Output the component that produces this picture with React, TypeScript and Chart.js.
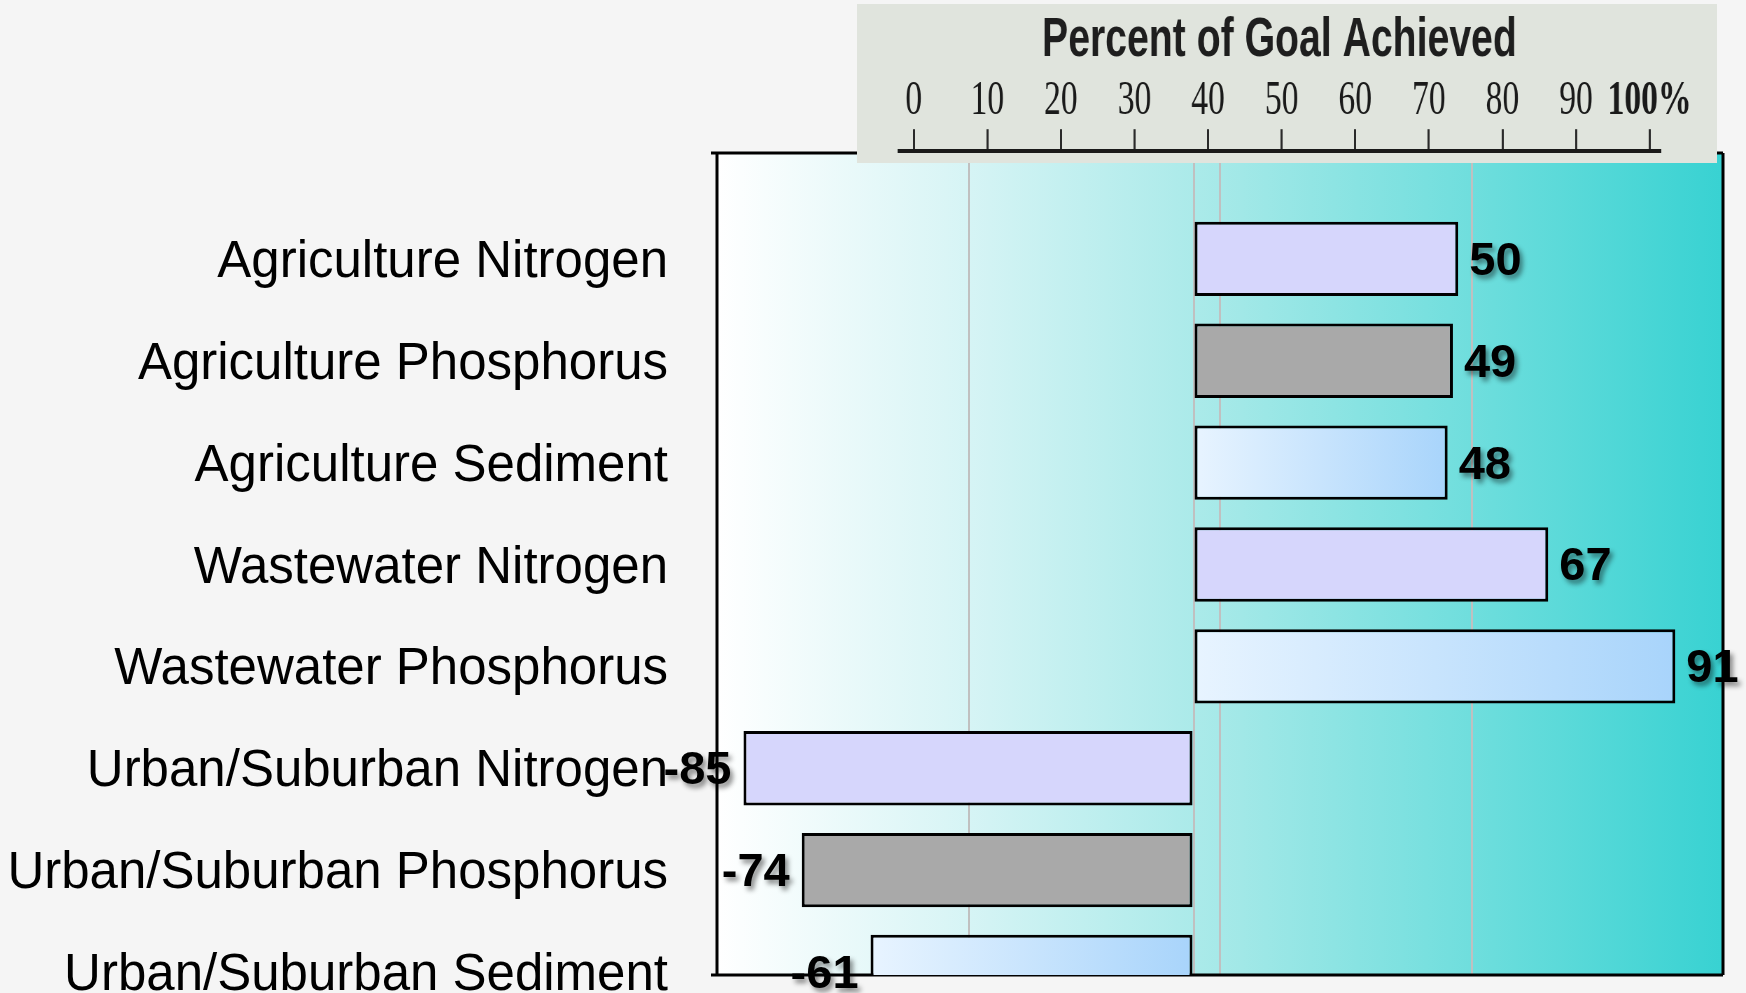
import React, { useEffect, useRef } from 'react';
import { Chart, registerables } from 'chart.js';

Chart.register(...registerables);

// ---- data ----
const categories = [
  'Agriculture Nitrogen',
  'Agriculture Phosphorus',
  'Agriculture Sediment',
  'Wastewater Nitrogen',
  'Wastewater Phosphorus',
  'Urban/Suburban Nitrogen',
  'Urban/Suburban Phosphorus',
  'Urban/Suburban Sediment',
];
const values = [50, 49, 48, 67, 91, -85, -74, -61];
const barFills = ['lavender', 'gray', 'blue', 'lavender', 'blue', 'lavender', 'gray', 'blue'];
const valueGridTicks = [-90, -42.5, 0, 5, 52.5, 100];
const percentTicks = [0, 10, 20, 30, 40, 50, 60, 70, 80, 90, 100];
const goalTitle = 'Percent of Goal Achieved';

// ---- styles ----
const solidFills: Record<string, string> = { lavender: '#d6d6fc', gray: '#a9a9a9' };
const blueStops = ['#e8f4ff', '#a8d4fb'];
const SANS = '"Liberation Sans", Arial, Helvetica, sans-serif';
const SERIF = '"Liberation Serif", "Times New Roman", serif';

Chart.defaults.font.family = SANS;

const plotDecor = {
  id: 'plotDecor',
  beforeDraw(chart: any) {
    const { ctx, chartArea: a } = chart;
    const g = ctx.createLinearGradient(a.left, 0, a.right, 0);
    g.addColorStop(0, '#ffffff');
    g.addColorStop(0.25, '#d6f4f5');
    g.addColorStop(0.5, '#a6e9e8');
    g.addColorStop(0.75, '#6fdedd');
    g.addColorStop(1, '#38d2d2');
    ctx.save();
    ctx.fillStyle = g;
    ctx.fillRect(a.left, a.top, a.right - a.left, a.bottom - a.top);
    ctx.restore();
  },
  beforeDatasetsDraw(chart: any) {
    const { ctx, chartArea: a } = chart;
    ctx.save();
    ctx.strokeStyle = '#000';
    ctx.lineWidth = 3;
    ctx.beginPath();
    ctx.moveTo(a.left - 6, a.top);
    ctx.lineTo(a.right, a.top);
    ctx.moveTo(a.left - 6, a.bottom);
    ctx.lineTo(a.right, a.bottom);
    ctx.moveTo(a.left, a.top);
    ctx.lineTo(a.left, a.bottom);
    ctx.moveTo(a.right, a.top);
    ctx.lineTo(a.right, a.bottom);
    ctx.stroke();
    ctx.restore();
  },
};

const valueLabels = {
  id: 'valueLabels',
  afterDatasetsDraw(chart: any) {
    const { ctx } = chart;
    const meta = chart.getDatasetMeta(0);
    ctx.save();
    ctx.font = `bold 47px ${SANS}`;
    ctx.fillStyle = '#000';
    ctx.textBaseline = 'middle';
    ctx.shadowColor = 'rgba(0,0,0,0.45)';
    ctx.shadowBlur = 5;
    ctx.shadowOffsetX = 3;
    ctx.shadowOffsetY = 4;
    meta.data.forEach((el: any, i: number) => {
      const v = values[i];
      const { x, y } = el.getProps(['x', 'y'], true);
      if (v >= 0) {
        ctx.textAlign = 'left';
        ctx.fillText(String(v), x + 11, y + 3);
      } else {
        ctx.textAlign = 'right';
        ctx.fillText(String(v), x - 12, y + 3);
      }
    });
    ctx.restore();
  },
};

export default function App() {
  const mainRef = useRef<HTMLCanvasElement>(null);
  const topRef = useRef<HTMLCanvasElement>(null);

  useEffect(() => {
    const main = new Chart(mainRef.current as HTMLCanvasElement, {
      type: 'bar',
      data: {
        datasets: [
          {
            data: values.map((v, i) => ({ x: v, y: i })),
            backgroundColor: (c: any) => {
              if (c.type !== 'data') return '#cccccc';
              const f = barFills[c.dataIndex];
              if (f !== 'blue') return solidFills[f];
              const xs = c.chart.scales.x;
              if (!xs) return blueStops[1];
              const a = xs.getPixelForValue(0);
              const b = xs.getPixelForValue(values[c.dataIndex]);
              const g = c.chart.ctx.createLinearGradient(Math.min(a, b), 0, Math.max(a, b), 0);
              g.addColorStop(0, blueStops[0]);
              g.addColorStop(1, blueStops[1]);
              return g;
            },
            borderColor: '#000',
            borderWidth: 3,
            borderSkipped: false,
            barPercentage: 0.73,
            categoryPercentage: 1,
            clip: 0,
          } as any,
        ],
      },
      options: {
        indexAxis: 'y',
        responsive: false,
        animation: false,
        devicePixelRatio: 1,
        layout: { padding: { top: 153, right: 23, bottom: 18, left: 0 } },
        plugins: {
          legend: { display: false },
          tooltip: { enabled: false },
          title: { display: false },
        },
        scales: {
          x: {
            type: 'linear',
            min: -90,
            max: 100,
            offset: false,
            afterBuildTicks: (s: any) => {
              s.ticks = valueGridTicks.map((v) => ({ value: v }));
            },
            ticks: { display: false },
            grid: { color: '#c0c0c0', lineWidth: 2, drawTicks: false, offset: false },
            border: { display: false },
            afterFit: (s: any) => {
              s.height = 0;
              s.paddingLeft = 0;
              s.paddingRight = 0;
            },
          },
          y: {
            type: 'linear',
            reverse: true,
            offset: false,
            min: -1.04,
            max: 7.03,
            afterBuildTicks: (s: any) => {
              s.ticks = categories.map((_, i) => ({ value: i }));
            },
            ticks: {
              callback: (v: any) => categories[v as number],
              color: '#000',
              font: { size: 51, family: SANS },
              padding: 49,
              labelOffset: 4,
              autoSkip: false,
            },
            grid: { display: false, drawTicks: false, offset: false },
            border: { display: false },
            afterFit: (s: any) => {
              s.width = 717;
              s.paddingTop = 0;
              s.paddingBottom = 0;
            },
          },
        },
      } as any,
      plugins: [plotDecor, valueLabels],
    });

    const top = new Chart(topRef.current as HTMLCanvasElement, {
      type: 'scatter',
      data: { datasets: [] },
      options: {
        responsive: false,
        animation: false,
        devicePixelRatio: 1,
        layout: { padding: { top: 3, left: 60, right: 82, bottom: 2 } },
        plugins: {
          legend: { display: false },
          tooltip: { enabled: false },
          title: {
            display: true,
            text: goalTitle,
            color: '#1e1e1e',
            font: { family: SANS, size: 56, weight: 'bold', lineHeight: 1.2 },
            padding: { top: 0, bottom: 0 },
          },
        },
        scales: {
          x: {
            type: 'linear',
            position: 'top',
            min: -2,
            max: 101.4,
            afterBuildTicks: (s: any) => {
              s.ticks = percentTicks.map((v) => ({ value: v }));
            },
            ticks: {
              callback: (v: any) => (v === 100 ? '100%' : String(v)),
              color: '#1a1a1a',
              font: (c: any) => ({
                family: SERIF,
                size: 48,
                lineHeight: 1.15,
                weight: c.tick && c.tick.value === 100 ? 'bold' : 'normal',
              }),
              padding: 0,
              maxRotation: 0,
              autoSkip: false,
            },
            grid: { drawOnChartArea: false, drawTicks: true, tickLength: 22, color: '#2a2a2a', lineWidth: 3 },
            border: { display: true, color: '#1a1a1a', width: 4 },
          },
          y: { display: false },
        },
      } as any,
    });

    return () => {
      main.destroy();
      top.destroy();
    };
  }, []);

  return (
    <div
      style={{
        position: 'fixed',
        left: 0,
        top: 0,
        width: 1746,
        height: 993,
        background: '#f5f5f5',
        overflow: 'hidden',
      }}
    >
      <canvas ref={mainRef} width={1746} height={993} style={{ position: 'absolute', left: 0, top: 0 }} />
      <canvas
        ref={topRef}
        width={1229}
        height={159}
        style={{
          position: 'absolute',
          left: 857,
          top: 4,
          transform: 'scaleX(0.7)',
          transformOrigin: '0 0',
          background: '#e0e4dd',
          zIndex: 2,
        }}
      />
    </div>
  );
}
